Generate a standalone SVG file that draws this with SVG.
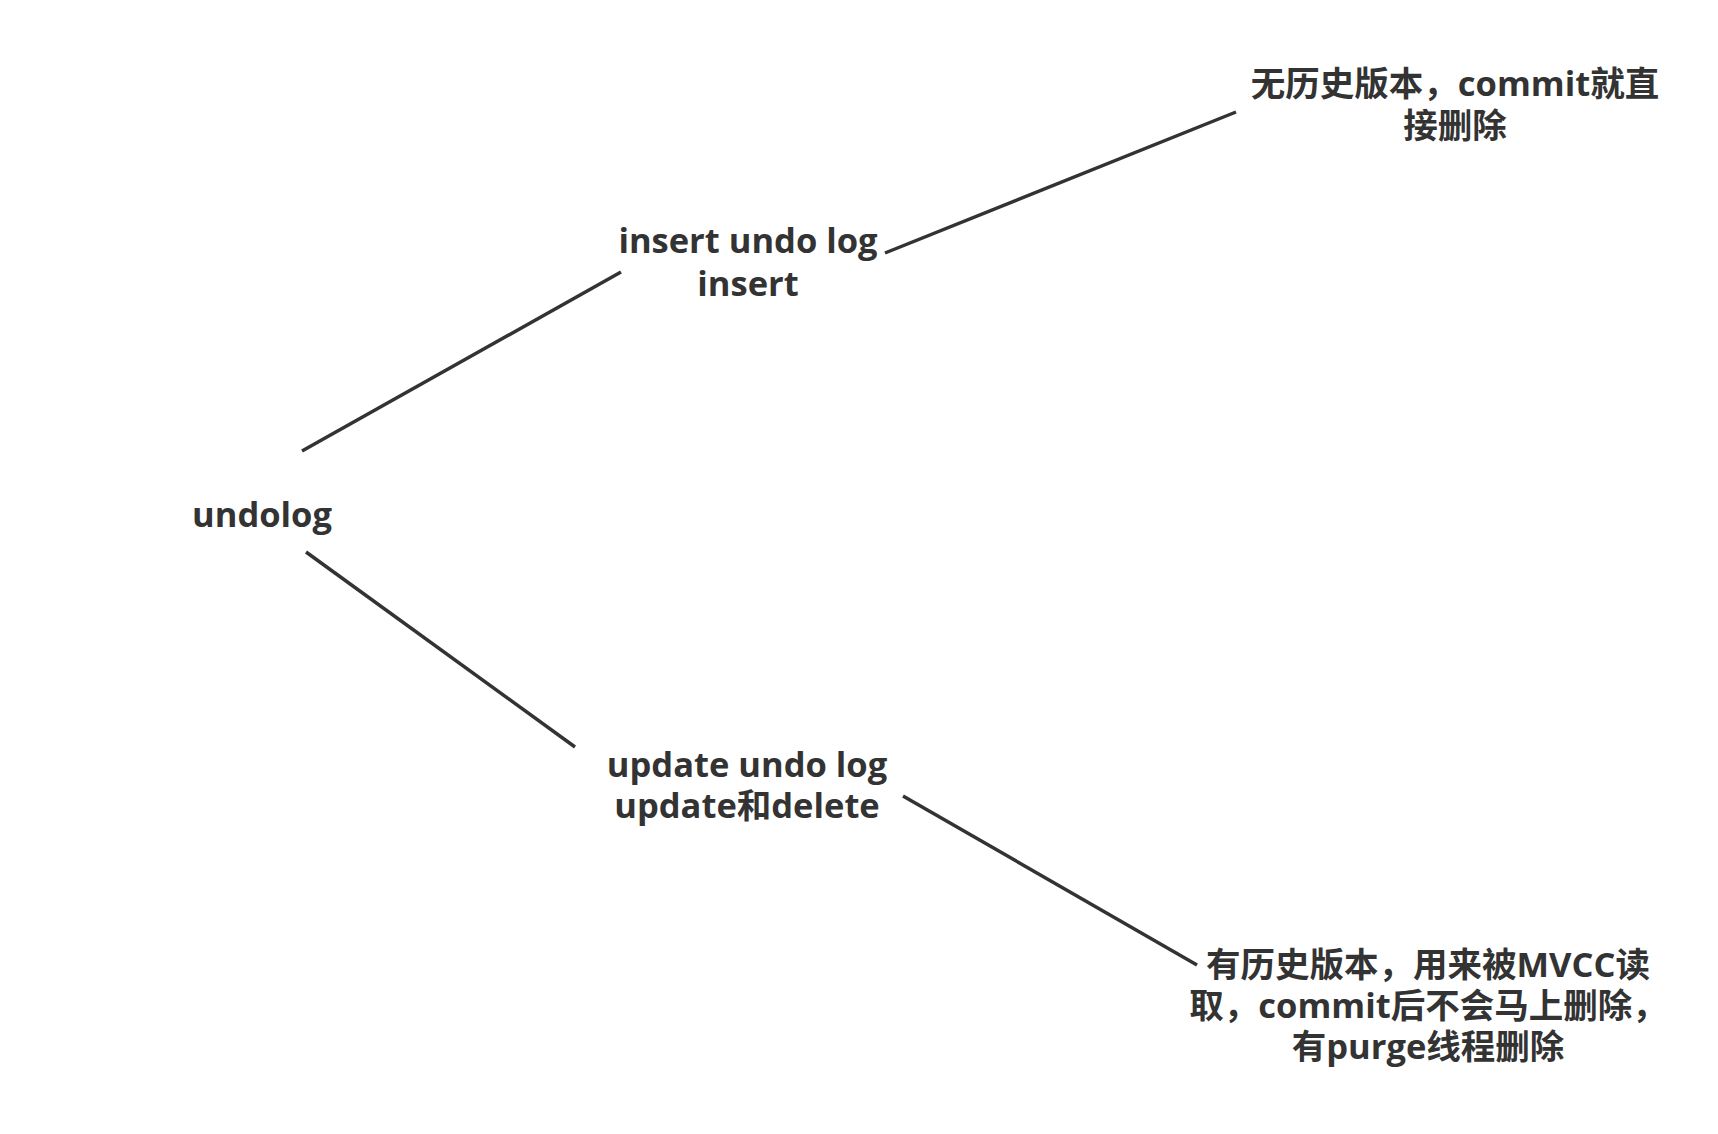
<svg xmlns="http://www.w3.org/2000/svg" width="1718" height="1134" viewBox="0 0 1718 1134">
<style>
.t{font-family:"Open Sans","Noto Sans CJK SC",sans-serif;font-weight:bold;font-size:34.5px;fill:#333333;text-anchor:middle}
.e{stroke:#333333;stroke-width:3.5;fill:none}
</style>
<rect width="1718" height="1134" fill="#ffffff"/>
<g id="connectors">
<line class="e" x1="302" y1="451" x2="621" y2="272"/>
<line class="e" x1="885" y1="253" x2="1236" y2="112"/>
<line class="e" x1="306" y1="552" x2="575" y2="747"/>
<line class="e" x1="903" y1="796" x2="1197" y2="965"/>
</g>
<g id="undolog"><text class="t" x="262" y="527">undolog</text></g>
<g id="insert"><text class="t"><tspan x="748" y="253">insert undo log</tspan><tspan x="748" y="296">insert</tspan></text></g>
<g id="update"><text class="t"><tspan x="747" y="777">update undo log</tspan><tspan x="747" y="818">update和delete</tspan></text></g>
<g id="insert-note"><text class="t"><tspan x="1455" y="96">无历史版本，commit就直</tspan><tspan x="1455" y="138">接删除</tspan></text></g>
<g id="update-note"><text class="t"><tspan x="1428" y="977">有历史版本，用来被MVCC读</tspan><tspan x="1428" y="1018">取，commit后不会马上删除，</tspan><tspan x="1428" y="1059">有purge线程删除</tspan></text></g>
</svg>
